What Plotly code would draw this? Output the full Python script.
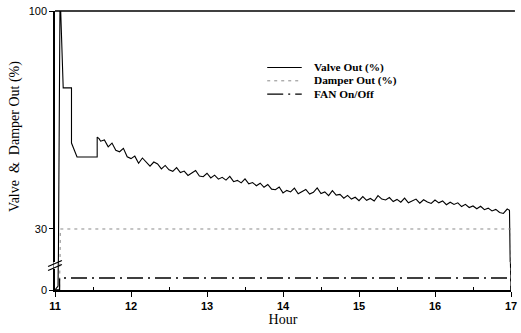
import plotly.graph_objects as go

# ---------------- data ----------------
valve_hour = [11.00, 11.04, 11.065, 11.075, 11.108, 11.217, 11.217, 11.29, 11.555, 11.555, 11.58,
              11.60, 11.65, 11.70, 11.75, 11.80, 11.85, 11.90, 11.95,
              12.00, 12.05, 12.10, 12.15, 12.20, 12.25, 12.30, 12.35, 12.40, 12.45,
              12.50, 12.55, 12.60, 12.65, 12.70, 12.75, 12.80, 12.85, 12.90, 12.95,
              13.00, 13.05, 13.10, 13.15, 13.20, 13.25, 13.30, 13.35, 13.40, 13.45,
              13.50, 13.55, 13.60, 13.65, 13.70, 13.75, 13.80, 13.85, 13.90, 13.95,
              14.00, 14.05, 14.10, 14.15, 14.20, 14.25, 14.30, 14.35, 14.40, 14.45,
              14.50, 14.55, 14.60, 14.65, 14.70, 14.75, 14.80, 14.85, 14.90, 14.95,
              15.00, 15.05, 15.10, 15.15, 15.20, 15.25, 15.30, 15.35, 15.40, 15.45,
              15.50, 15.55, 15.60, 15.65, 15.70, 15.75, 15.80, 15.85, 15.90, 15.95,
              16.00, 16.05, 16.10, 16.15, 16.20, 16.25, 16.30, 16.35, 16.40, 16.45,
              16.50, 16.55, 16.60, 16.65, 16.70, 16.75, 16.80, 16.85, 16.90, 16.95,
              16.98, 17.00]
valve_pct = [0, 2, 100, 100, 75.3, 75.3, 57.6, 53.1, 53.1, 59.5, 59.0,
             58.2, 58.6, 56.4, 57.6, 55.3, 54.8, 55.9, 53.2,
             52.6, 53.4, 51.1, 52.8, 51.6, 50.2, 51.5, 50.9, 49.3, 50.4,
             49.0, 48.5, 49.7, 48.1, 48.6, 47.2, 48.0, 48.8, 47.0, 46.8,
             47.9, 46.4, 47.3, 46.0, 46.6, 45.7, 46.9, 45.2, 45.6, 44.8,
             46.1, 44.5, 44.9, 43.9, 44.7, 43.4, 44.3, 42.8, 42.6, 43.5,
             41.6, 42.4, 41.9, 43.1, 41.3, 42.0, 42.7, 41.2, 41.8, 43.2,
             41.4, 41.9, 40.7, 42.3, 40.9, 41.1, 39.9, 40.8, 39.6, 40.2,
             39.1, 40.4, 39.2, 39.8, 39.0, 40.7, 39.6, 39.3, 40.1, 38.8,
             39.5, 38.6, 39.9, 38.4, 38.9, 39.6, 38.3, 39.4, 38.7, 38.2,
             39.3, 38.4, 39.0, 37.8, 38.6, 37.9, 38.4, 37.2, 37.9, 36.9,
             37.4, 36.5, 37.3, 36.2, 36.7, 35.8, 36.3, 35.3, 35.0, 36.4,
             36.0, 0]

damper_hour = [11.00, 11.06, 11.07, 17.00, 17.00]
damper_pct = [0, 0, 30, 30, 0]

fan_hour = [11.00, 11.06, 11.06, 17.00, 17.00]
fan_level = [0, 0, 6, 6, 0]

x_ticks = [11, 12, 13, 14, 15, 16, 17]
y_upper_ticks = [30, 100]
y_lower_ticks = [0]

legend_labels = ["Valve Out (%)", "Damper Out (%)", "FAN On/Off"]

# ---------------- figure ----------------
W, H = 521, 333
L, R, T, B = 55, 4, 11, 43
pw, ph = W - L - R, H - T - B
brk = (290 - 262) / ph  # fraction of plot height for the lower (broken) segment

valve_style = dict(color="black", width=1.1)
damper_style = dict(color="#8a8a8a", width=1, dash="3px,4px")
fan_style = dict(color="black", width=1.3, dash="16px,5px,2px,5px")

fig = go.Figure()
for ya in ["y", "y2"]:
    fig.add_trace(go.Scatter(x=valve_hour, y=valve_pct, mode="lines", line=valve_style,
                             yaxis=ya, showlegend=False, hoverinfo="skip"))
    fig.add_trace(go.Scatter(x=damper_hour, y=damper_pct, mode="lines", line=damper_style,
                             yaxis=ya, showlegend=False, hoverinfo="skip"))
    fig.add_trace(go.Scatter(x=fan_hour, y=fan_level, mode="lines", line=fan_style,
                             yaxis=ya, showlegend=False, hoverinfo="skip"))

tickfont = dict(family="Liberation Sans, Arial, sans-serif", size=11, color="black")
serif = "Liberation Serif, Times New Roman, serif"

fig.update_layout(
    width=W, height=H,
    margin=dict(l=L, r=R, t=T, b=B),
    paper_bgcolor="white", plot_bgcolor="white",
    xaxis=dict(range=[11, 17], tickvals=x_ticks, ticktext=[str(v) for v in x_ticks],
               showgrid=False, zeroline=False, showline=True, linecolor="black", linewidth=2,
               ticks="outside", ticklen=5, tickwidth=1.2, tickcolor="black",
               tickfont=dict(tickfont, weight="bold"), anchor="y2",
               ticklabeloverflow="allow",
               minor=dict(tickvals=[11.5, 12.5, 13.5, 14.5, 15.5, 16.5], ticks="inside",
                          ticklen=3, tickwidth=1, tickcolor="black"),
               title=dict(text="Hour", font=dict(family=serif, size=14, color="black"), standoff=2)),
    yaxis=dict(domain=[brk, 1], range=[19.4, 100], tickvals=y_upper_ticks,
               showgrid=False, zeroline=False, showline=True, linecolor="black", linewidth=1.5,
               ticks="outside", ticklen=4, tickwidth=1, tickcolor="black", tickfont=tickfont,
               anchor="x",
               title=dict(text="Valve  &  Damper Out (%)",
                          font=dict(family=serif, size=14, color="black"), standoff=6)),
    yaxis2=dict(domain=[0, brk], range=[0, 14], tickvals=y_lower_ticks,
                showgrid=False, zeroline=False, showline=True, linecolor="black", linewidth=1.5,
                ticks="outside", ticklen=4, tickwidth=1, tickcolor="black", tickfont=tickfont,
                anchor="x"),
)

def px_x(px):
    return (px - L) / pw

def px_y(py):
    return (H - B - py) / ph

shapes = []
# top frame line
shapes.append(dict(type="line", xref="paper", yref="paper", x0=0, x1=px_x(521), y0=1, y1=1,
                   line=dict(color="black", width=1.5), layer="above"))
# axis break marks
shapes.append(dict(type="line", xref="paper", yref="paper", x0=px_x(55), x1=px_x(55),
                   y0=px_y(269), y1=px_y(262), line=dict(color="white", width=3), layer="above"))
shapes.append(dict(type="line", xref="paper", yref="paper", x0=px_x(48), x1=px_x(62),
                   y0=px_y(266.5), y1=px_y(260.5), line=dict(color="black", width=1.3), layer="above"))
shapes.append(dict(type="line", xref="paper", yref="paper", x0=px_x(48), x1=px_x(62),
                   y0=px_y(270.5), y1=px_y(264.5), line=dict(color="black", width=1.3), layer="above"))

# legend samples + text
legend_styles = [valve_style, damper_style, fan_style]
rows = [67.5, 80.8, 94.1]
annotations = []
for lab, st, ry in zip(legend_labels, legend_styles, rows):
    shapes.append(dict(type="line", xref="paper", yref="paper", x0=px_x(270), x1=px_x(305),
                       y0=px_y(ry), y1=px_y(ry), line=st))
    annotations.append(dict(text=lab, xref="paper", yref="paper", x=px_x(316), y=px_y(ry),
                            xanchor="left", yanchor="middle", showarrow=False, borderpad=0,
                            font=dict(family=serif, size=11.3, color="black", weight="bold")))

fig.update_layout(shapes=shapes, annotations=annotations)
fig.write_html("out.html")
